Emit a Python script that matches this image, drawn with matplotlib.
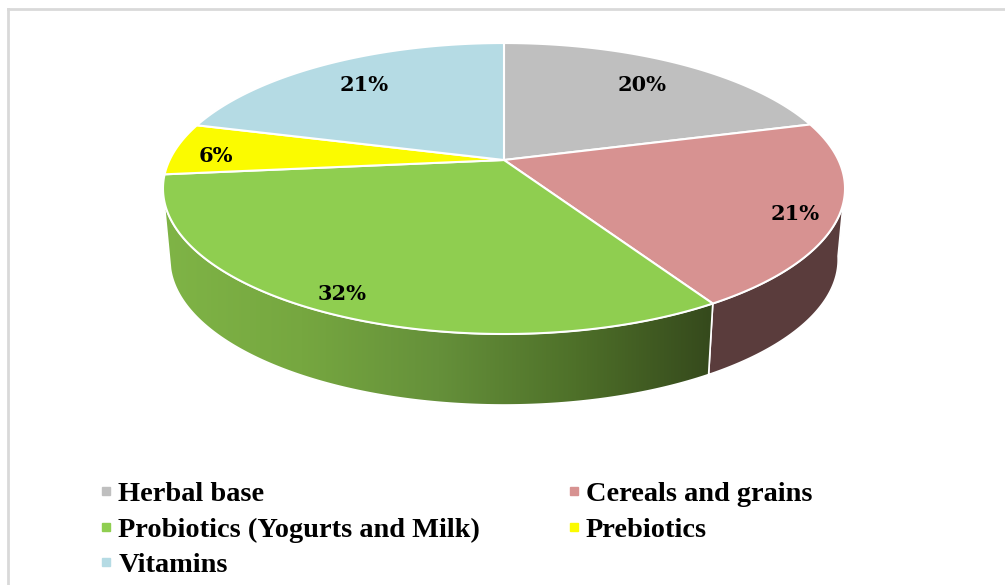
import numpy as np
import matplotlib
matplotlib.use("Agg")
import matplotlib.pyplot as plt
from matplotlib.patches import Polygon
from matplotlib.lines import Line2D

# данные
categories = ["Herbal base", "Cereals and grains", "Probiotics (Yogurts and Milk)", "Prebiotics", "Vitamins"]
values = [20.7, 20.6, 32.1, 5.8, 20.8]
labels = ["20%", "21%", "32%", "6%", "21%"]
top_colors = ["#bfbfbf", "#d79291", "#8fce50", "#fbfb00", "#b5dbe4"]
wall_colors = ["#6b6b6b", "#5a3c3c", None, "#8a8a00", "#5f8a96"]

plt.rcParams["font.family"] = ["Liberation Serif", "DejaVu Serif"]

# параметры перспективы (в пикселях картинки)
cx, cy = 504, 160
a, b, k = 334.4, 139.9, 0.196
depth = 71
shrink = 0.98
label_r = [0.76, 0.88, 0.90, 0.87, 0.77]
label_shift = [-0.2, 1.9, 0.7, -2.4, -0.4]


def project(angle, r=1.0):
    u = r * np.sin(np.radians(angle))
    v = r * np.cos(np.radians(angle))
    w = 1 + k * v
    return cx + a * u / w, cy - b * v / w


def rim(a1, a2, lower=False):
    t = np.linspace(a1, a2, 200)
    x, y = project(t)
    if lower:
        x = cx + (x - cx) * shrink
        y = y + depth
    return np.column_stack([x, y])


fig = plt.figure(figsize=(10.05, 5.85), dpi=100)
ax = fig.add_axes([0, 0, 1, 1])
ax.set_xlim(0, 1005)
ax.set_ylim(585, 0)
ax.axis("off")

# рамка
ax.plot([8, 8], [585, 9], color="#d9d9d9", lw=2, solid_capstyle="projecting")
ax.plot([8, 1005], [9, 9], color="#d9d9d9", lw=2, solid_capstyle="projecting")

bounds = np.cumsum([0] + values) / sum(values) * 360

# боковая стенка: только передняя часть, задняя закрыта верхом
for i in range(len(values)):
    a1 = max(bounds[i], 100)
    a2 = min(bounds[i + 1], 255)
    if a2 <= a1:
        continue
    pts = np.vstack([rim(a1, a2), rim(a1, a2, lower=True)[::-1]])
    if wall_colors[i] is not None:
        ax.add_patch(Polygon(pts, closed=True, facecolor=wall_colors[i], edgecolor="white", lw=1.2, zorder=2))
    else:
        # зелёная стенка с горизонтальным градиентом
        poly = Polygon(pts, closed=True, facecolor="none", edgecolor="white", lw=1.2, zorder=3)
        ax.add_patch(poly)
        cmap = matplotlib.colors.LinearSegmentedColormap.from_list(
            "wall", ["#7fb446", "#76a740", "#65903a", "#4e7029", "#35491c"])
        x0, x1 = pts[:, 0].min(), pts[:, 0].max()
        y0, y1 = pts[:, 1].min(), pts[:, 1].max()
        grad = np.linspace(0, 1, 256).reshape(1, -1)
        im = ax.imshow(grad, extent=[x0, x1, y1, y0], cmap=cmap, aspect="auto", zorder=2)
        im.set_clip_path(poly)

ax.set_xlim(0, 1005)
ax.set_ylim(585, 0)

# верх пирога
handles = []
for i in range(len(values)):
    pts = np.vstack([[cx, cy], rim(bounds[i], bounds[i + 1])])
    ax.add_patch(Polygon(pts, closed=True, facecolor=top_colors[i], edgecolor="white", lw=1.5, zorder=4))
    handles.append(Line2D([], [], ls="", marker="s", ms=6, color=top_colors[i], label=categories[i]))

# подписи процентов
for i in range(len(values)):
    mid = (bounds[i] + bounds[i + 1]) / 2 + label_shift[i]
    x, y = project(mid, label_r[i])
    ax.text(x + 1, y + 1, labels[i], ha="center", va="center", fontsize=15,
            fontweight="bold", family=["DejaVu Serif"], color="black", zorder=5)

# легенда: порядок по колонкам
leg_order = [0, 2, 4, 1, 3]
leg = ax.legend([handles[i] for i in leg_order], [categories[i] for i in leg_order],
                ncol=2, frameon=False, loc="upper left", bbox_to_anchor=(97.5 / 1005, 1 - 481.5 / 585),
                prop={"size": 20.4, "weight": "bold"}, handlelength=0.6, handletextpad=0.13,
                columnspacing=3.01, labelspacing=0.34, borderpad=0, borderaxespad=0)

fig.savefig("out.png", dpi=100)
